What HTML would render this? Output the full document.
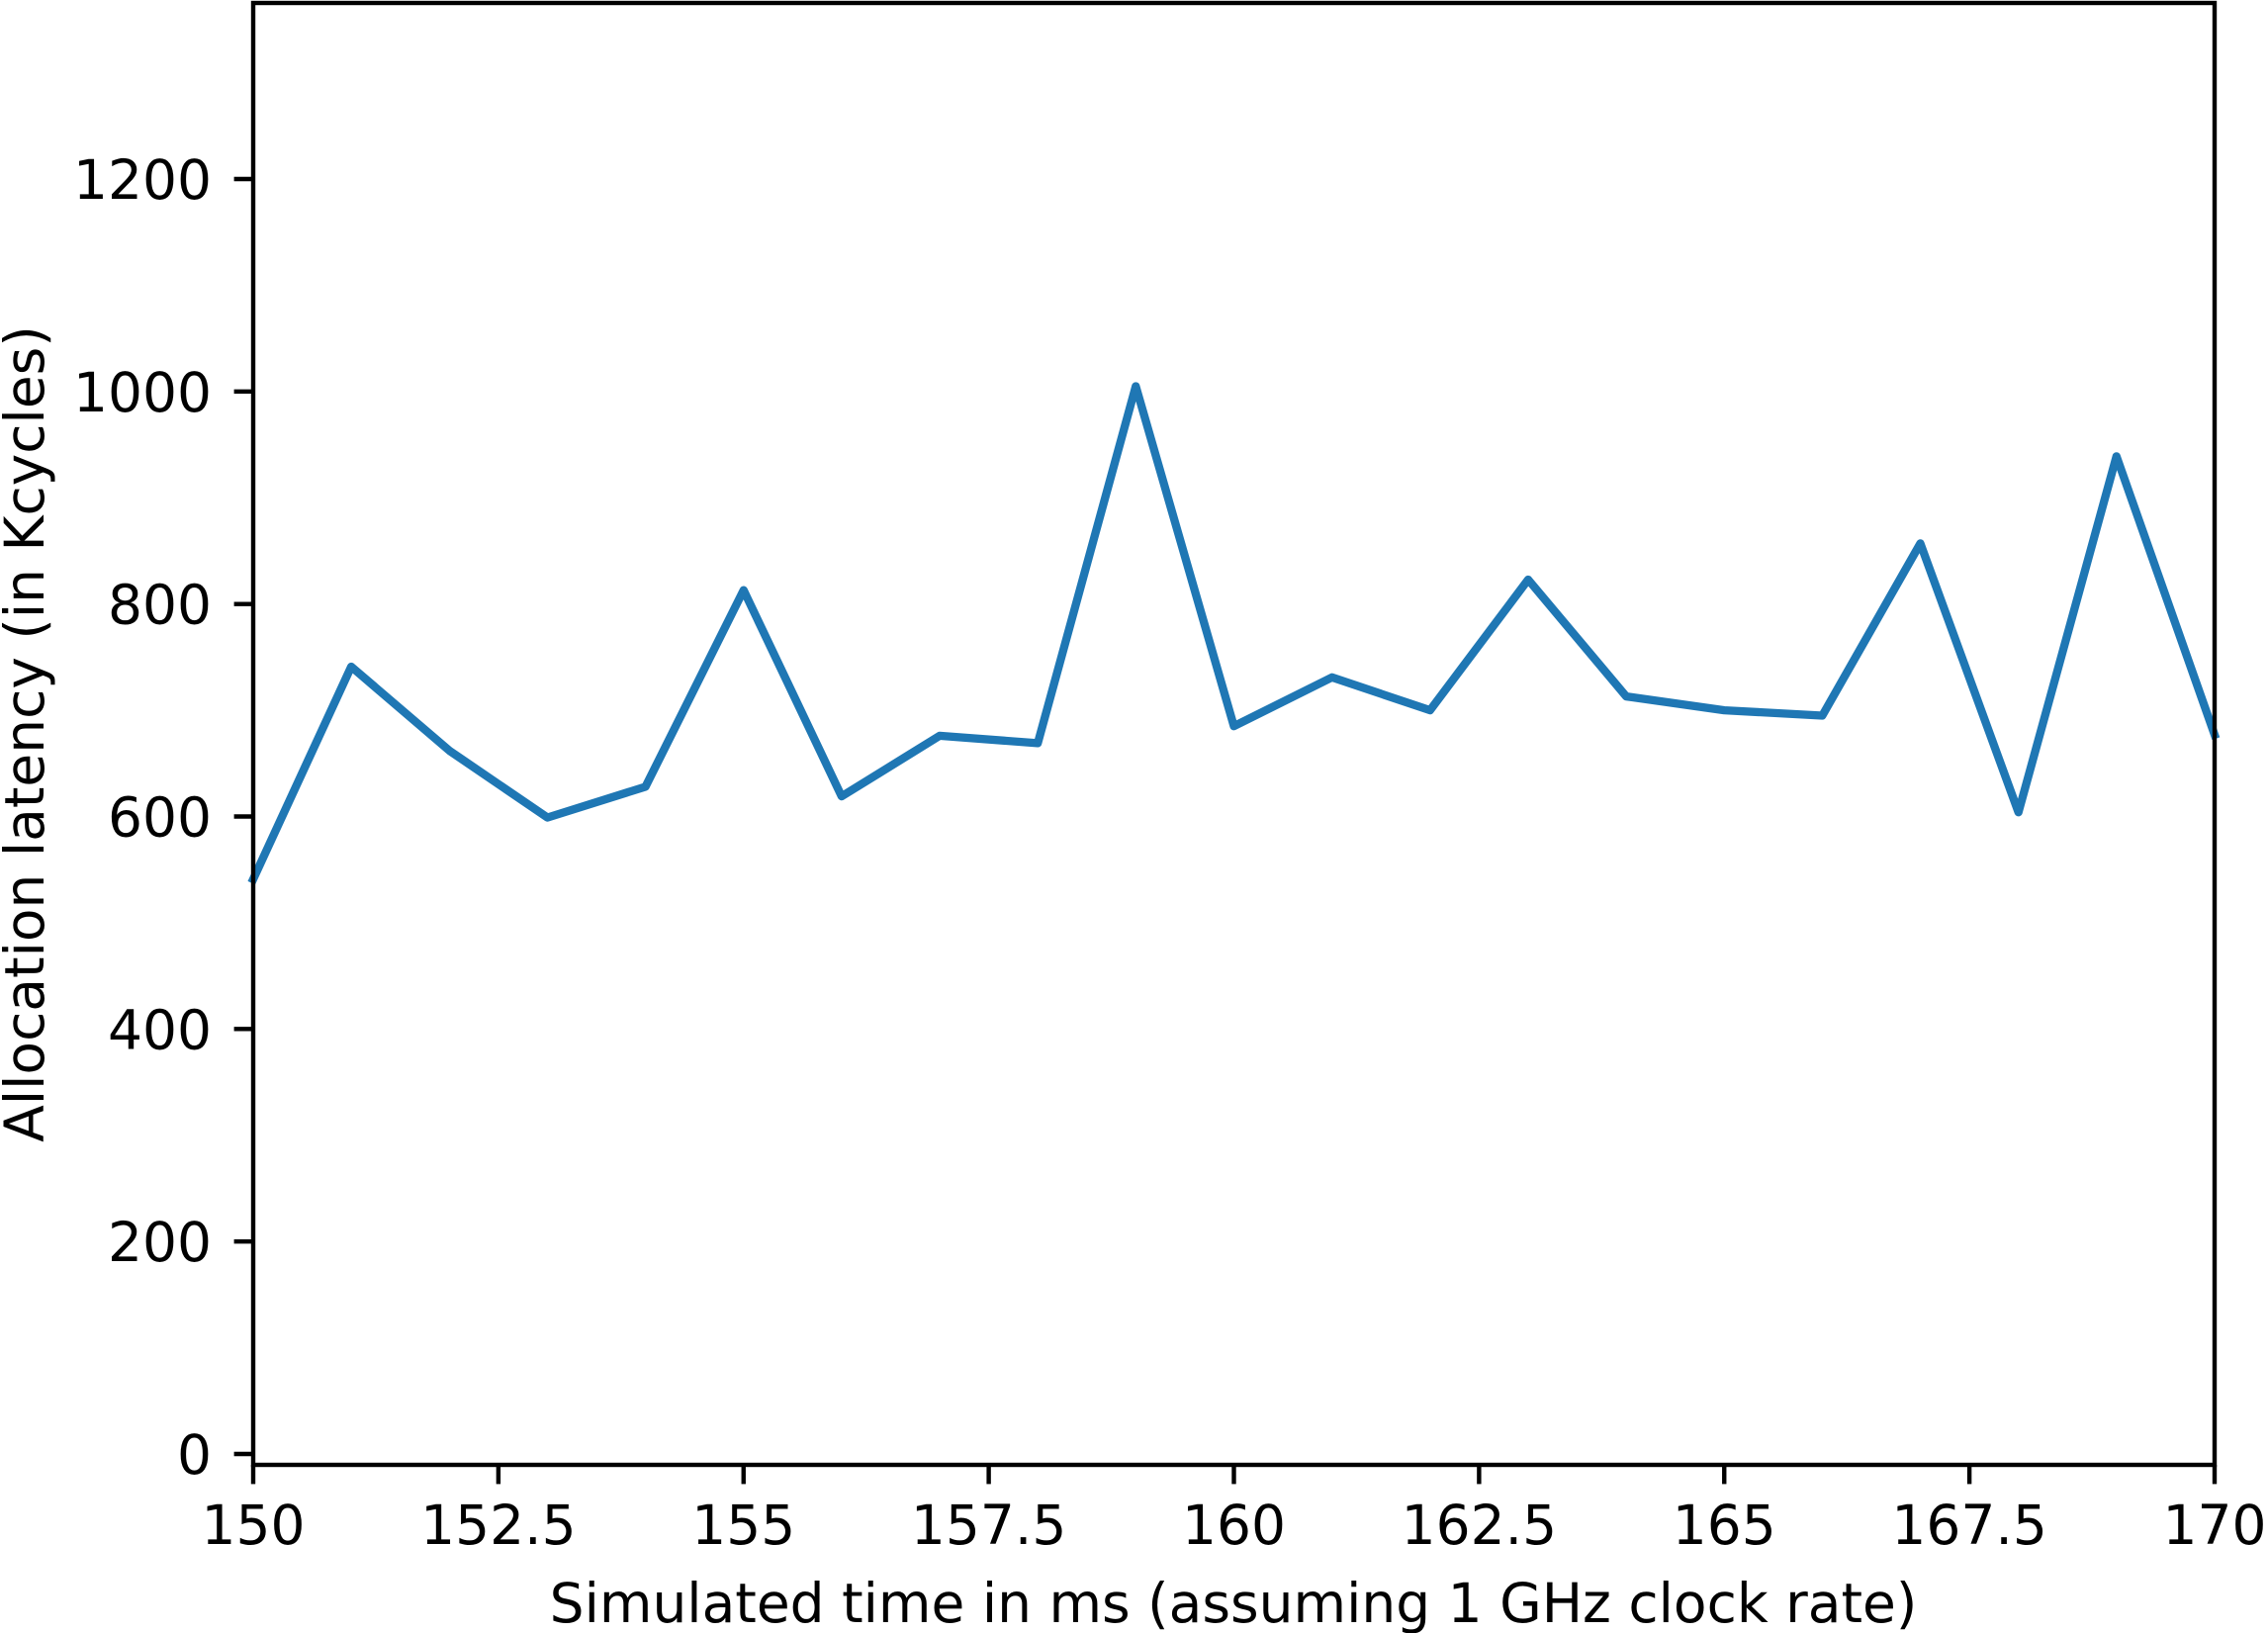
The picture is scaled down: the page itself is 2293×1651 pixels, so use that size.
<!DOCTYPE html>
<html><head><meta charset="utf-8"><style>html,body{margin:0;padding:0;background:#fff}svg{display:block}text{font-family:"DejaVu Sans","Liberation Sans",sans-serif;fill:#000}</style></head>
<body>
<svg id="chart" width="2293" height="1651" xmlns="http://www.w3.org/2000/svg">
<rect width="2293" height="1651" fill="#fff"/>
<g id="grid"></g>
<path id="series" fill="none" stroke="#1f77b4" stroke-width="8.3" stroke-linejoin="round" stroke-linecap="square"/>
<rect x="256" y="3" width="1983" height="1478" fill="none" stroke="#000" stroke-width="4.4"/>
<text x="1247" y="1640" font-size="55" text-anchor="middle">Simulated time in ms (assuming 1 GHz clock rate)</text>
<text transform="translate(44,742) rotate(-90)" font-size="55" text-anchor="middle">Allocation latency (in Kcycles)</text>
</svg>
<script>
const times=[150,151,152,153,154,155,156,157,158,159,160,161,162,163,164,165,166,167,168,169,170];
const latency=[541,741,662,599,628,813,619,676,669,1005,685,731,700,823,713,700,695,857,604,939,677];
const xTicks=[150,152.5,155,157.5,160,162.5,165,167.5,170];
const xTickLabels=["150","152.5","155","157.5","160","162.5","165","167.5","170"];
const yTicks=[0,200,400,600,800,1000,1200];
const yTickLabels=["0","200","400","600","800","1000","1200"];
const L=256,R=2239,T=3,B=1481;
const X=v=>L+(v-150)/20*(R-L);
const Y=v=>1470-v*(1470-181)/1200;
const NS="http://www.w3.org/2000/svg";
const svg=document.getElementById('chart');
let d=times.map((t,i)=>(i?'L':'M')+X(t).toFixed(1)+' '+Y(latency[i]).toFixed(1)).join(' ');
document.getElementById('series').setAttribute('d',d);
xTicks.forEach((v,i)=>{
 const l=document.createElementNS(NS,'line');
 l.setAttribute('x1',X(v));l.setAttribute('x2',X(v));l.setAttribute('y1',B);l.setAttribute('y2',B+19.4);
 l.setAttribute('stroke','#000');l.setAttribute('stroke-width','4.4');
 
 
 svg.appendChild(l);
 const t=document.createElementNS(NS,'text');
 t.setAttribute('x',X(v));t.setAttribute('y',1561);t.setAttribute('font-size','55');t.setAttribute('text-anchor','middle');
 t.textContent=xTickLabels[i];
 
 
 svg.appendChild(t);
});
yTicks.forEach((v,i)=>{
 const l=document.createElementNS(NS,'line');
 l.setAttribute('x1',L-19.4);l.setAttribute('x2',L);l.setAttribute('y1',Y(v));l.setAttribute('y2',Y(v));
 l.setAttribute('stroke','#000');l.setAttribute('stroke-width','4.4');
 
 
 svg.appendChild(l);
 const t=document.createElementNS(NS,'text');
 t.setAttribute('x',214);t.setAttribute('y',Y(v)+20);t.setAttribute('font-size','55');t.setAttribute('text-anchor','end');
 t.textContent=yTickLabels[i];
 
 
 svg.appendChild(t);
});
</script>
</body></html>
